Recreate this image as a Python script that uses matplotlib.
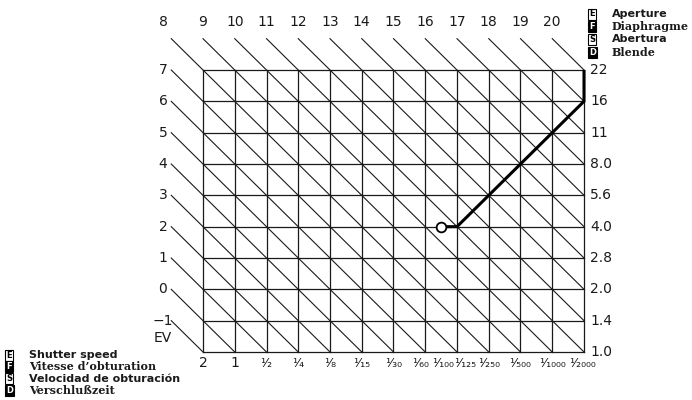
import matplotlib
matplotlib.use('Agg')
import matplotlib.pyplot as plt

# chart data
shutter_labels = ['2', '1', '1/2', '1/4', '1/8', '1/15', '1/30', '1/60',
                  '1/125', '1/250', '1/500', '1/1000', '1/2000']
aperture_labels = ['1.0', '1.4', '2.0', '2.8', '4.0', '5.6', '8.0', '11', '16', '22']
ev_values = list(range(-1, 21))
# program line in steps (shutter step, aperture step)
program_tv = [7.5, 8, 12, 12]
program_av = [4, 4, 8, 9]
extra_label = '1/100'
extra_step = 7.6

ap_legend = [('E', 'Aperture', 'sans'), ('F', 'Diaphragme', 'serif'),
             ('S', 'Abertura', 'sans'), ('D', 'Blende', 'serif')]
sh_legend = [('E', 'Shutter speed', 'sans'), ('F', 'Vitesse d\u2019obturation', 'serif'),
             ('S', 'Velocidad de obturaci\u00f3n', 'sans'), ('D', 'Verschlu\u00dfzeit', 'serif')]

W, H = 692, 400
fig = plt.figure(figsize=(W / 100, H / 100), dpi=100)
ax = fig.add_axes([203 / W, 48 / H, 381 / W, 282 / H])
nx = len(shutter_labels) - 1
ny = len(aperture_labels) - 1
ax.set_xlim(0, nx)
ax.set_ylim(0, ny)
ax.axis('off')

ink = '#1a1a1a'
fs = 10

SUP = str.maketrans('0123456789', '\u2070\u00b9\u00b2\u00b3\u2074\u2075\u2076\u2077\u2078\u2079')
SUB = str.maketrans('0123456789', '\u2080\u2081\u2082\u2083\u2084\u2085\u2086\u2087\u2088\u2089')


def frac(s):
    if '/' not in s:
        return s
    a, b = s.split('/')
    return a.translate(SUP) + '\u2044' + b.translate(SUB)


# grid
for i in range(nx + 1):
    ax.plot([i, i], [0, ny], color=ink, lw=0.9, clip_on=False)
for j in range(ny + 1):
    ax.plot([0, nx], [j, j], color=ink, lw=0.9, clip_on=False)

# EV diagonals
for ev in ev_values:
    s = ev + 1
    if ev + 2 <= ny:
        x0, y0 = -1, ev + 2
        ax.text(x0 - 0.26, y0, '\u2212' + str(-ev) if ev < 0 else str(ev),
                ha='center', va='center', fontsize=fs, color=ink)
    else:
        x0, y0 = s - (ny + 1), ny + 1
        lx = x0 - 0.26 if x0 < 0 else x0
        ax.text(lx, y0 + 0.53, str(ev), ha='center', va='center',
                fontsize=fs, color=ink)
    if s <= nx:
        x1, y1 = s, 0
    else:
        x1, y1 = nx, s - nx
    ax.plot([x0, x1], [y0, y1], color=ink, lw=0.8, clip_on=False)

ax.text(-1.26, 0.45, 'EV', ha='center', va='center', fontsize=fs, color=ink)

# right aperture labels
for j, lab in enumerate(aperture_labels):
    ax.text(nx + 0.2, j, lab, ha='left', va='center', fontsize=fs, color=ink)

# bottom shutter labels (crowded ones nudged apart)
nudge = {'1/60': -0.14, '1/125': 0.27, '1/2000': -0.05}
for i, lab in enumerate(shutter_labels):
    ax.text(i + nudge.get(lab, 0), -0.36, frac(lab), ha='center', va='center',
            fontsize=fs if '/' not in lab else 9, color=ink)
ax.text(extra_step - 0.05, -0.36, frac(extra_label), ha='center', va='center',
        fontsize=9, color=ink)

# program line
ax.plot(program_tv, program_av, color='black', lw=2.2, clip_on=False,
        solid_capstyle='butt', zorder=5)
ax.plot(program_tv[0], program_av[0], 'o', ms=7, mfc='white', mec='black',
        mew=1.3, clip_on=False, zorder=6)


def legend(x, y0, step, items):
    for k, (code, text, fam) in enumerate(items):
        y = y0 + k * step
        dark = k % 2 == 1
        fig.text(x / W, 1 - y / H, code, fontsize=6, fontweight='bold',
                 ha='left', va='center', family='DejaVu Sans',
                 color='white' if dark else 'black',
                 bbox=dict(boxstyle='square,pad=0.12',
                           fc='black' if dark else 'white', ec='black', lw=0.8))
        fig.text((x + 23) / W, 1 - y / H, text, fontsize=8, fontweight='bold',
                 ha='left', va='center',
                 family='DejaVu Sans' if fam == 'sans' else 'DejaVu Serif',
                 color=ink)


legend(589, 14, 12.7, ap_legend)
legend(6, 355, 11.8, sh_legend)

fig.savefig('out.png', dpi=100)
